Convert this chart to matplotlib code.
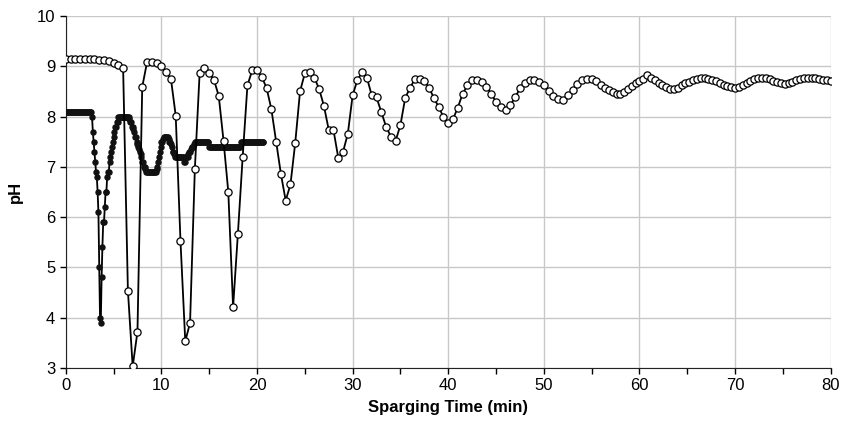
import numpy as np
import matplotlib
matplotlib.use("Agg")
import matplotlib.pyplot as plt
from matplotlib.ticker import MultipleLocator

plt.rcParams['font.family'] = ['Liberation Sans', 'DejaVu Sans']

# open circles: 0.5 min readings up to 55.5, then denser readings to 80
t_open_a = np.arange(0, 56, 0.5)
ph_open_a = [9.14, 9.14, 9.14, 9.14, 9.14, 9.14, 9.14, 9.13, 9.12, 9.10, 9.07, 9.03,
             8.97, 4.54, 3.03, 3.72, 8.59, 9.08, 9.09, 9.06, 9.00, 8.89, 8.75, 8.02,
             5.52, 3.53, 3.90, 6.95, 8.86, 8.97, 8.87, 8.73, 8.41, 7.52, 6.50, 4.21,
             5.66, 7.19, 8.62, 8.92, 8.92, 8.79, 8.57, 8.15, 7.50, 6.86, 6.33, 6.65,
             7.48, 8.50, 8.86, 8.88, 8.77, 8.55, 8.21, 7.74, 7.73, 7.18, 7.30, 7.66,
             8.42, 8.73, 8.88, 8.77, 8.42, 8.38, 8.09, 7.80, 7.60, 7.52, 7.83, 8.37,
             8.57, 8.74, 8.74, 8.71, 8.57, 8.37, 8.19, 7.99, 7.87, 7.95, 8.18, 8.45,
             8.62, 8.72, 8.73, 8.69, 8.59, 8.45, 8.29, 8.19, 8.13, 8.23, 8.38, 8.56,
             8.67, 8.72, 8.73, 8.69, 8.62, 8.50, 8.40, 8.34, 8.33, 8.42, 8.53, 8.65,
             8.73, 8.75, 8.75, 8.70]
t_open_b = np.round(np.arange(56.0, 80.01, 0.4), 2)
ph_open_b = [8.62, 8.57, 8.52, 8.48, 8.45, 8.44, 8.49, 8.54, 8.60, 8.66, 8.71, 8.75,
             8.82, 8.76, 8.72, 8.67, 8.62, 8.58, 8.55, 8.54, 8.57, 8.62, 8.66, 8.69,
             8.72, 8.75, 8.76, 8.76, 8.75, 8.73, 8.70, 8.67, 8.63, 8.60, 8.58, 8.57,
             8.59, 8.63, 8.67, 8.71, 8.74, 8.76, 8.77, 8.76, 8.74, 8.71, 8.68, 8.66,
             8.65, 8.66, 8.69, 8.72, 8.75, 8.76, 8.77, 8.77, 8.76, 8.75, 8.73, 8.72,
             8.70]
t_open = np.concatenate([t_open_a, t_open_b])
ph_open = ph_open_a + ph_open_b

# filled circles: readings every 5 s up to ~20.7 min
ph_fill = ([8.1] * 33 +
           [8.0, 7.7, 7.5, 7.3, 7.1, 6.9, 6.8, 6.5, 6.1, 5.0, 4.0, 3.9,
            4.8, 5.4, 5.9, 5.9, 6.2, 6.5, 6.5, 6.8, 6.9, 6.9, 7.1, 7.2,
            7.3, 7.4, 7.5, 7.6, 7.7, 7.8, 7.8, 7.9, 7.9, 8.0] +
           [8.0] * 13 +
           [7.95, 7.9, 7.9, 7.8, 7.8, 7.75, 7.7, 7.6, 7.6, 7.5, 7.45, 7.4,
            7.35, 7.3, 7.25, 7.2, 7.1, 7.1, 7.0, 7.0, 6.95, 6.9] +
           [6.9] * 12 +
           [6.95, 7.0, 7.1, 7.2, 7.3, 7.4, 7.5, 7.5, 7.55, 7.6] +
           [7.6] * 5 +
           [7.55, 7.5, 7.5, 7.45, 7.4, 7.3, 7.3, 7.25] +
           [7.2] * 12 +
           [7.1, 7.1, 7.2, 7.2, 7.2, 7.25, 7.3, 7.3, 7.35, 7.4, 7.4, 7.4, 7.45] +
           [7.5] * 18 +
           [7.4] * 40 +
           [7.5] * 29)
t_fill = np.arange(len(ph_fill)) / 12.0

fig = plt.figure(figsize=(8.56, 4.30), dpi=100)
ax = fig.add_axes([0.0768, 0.1442, 0.8937, 0.8186])

ax.plot(t_fill, ph_fill, color='black', lw=1.3, marker='o', ms=3.6,
        mfc='#111111', mec='#111111', zorder=3)
ax.plot(t_open, ph_open, color='black', lw=1.3, marker='o', ms=5.2,
        mfc='white', mec='black', mew=0.9, zorder=4)

ax.set_xlim(0, 80)
ax.set_ylim(3, 10)
ax.xaxis.set_major_locator(MultipleLocator(10))
ax.xaxis.set_minor_locator(MultipleLocator(5))
ax.yaxis.set_major_locator(MultipleLocator(1))
ax.grid(True, which='major', color='#c8c8c8', lw=1.0)
ax.set_axisbelow(True)
ax.spines['top'].set_visible(False)
ax.spines['right'].set_visible(False)
ax.spines['left'].set_color('#222222')
ax.spines['bottom'].set_color('#222222')
ax.tick_params(which='major', direction='out', length=4, width=1, labelsize=12)
ax.tick_params(which='minor', direction='out', length=4, width=1)
ax.set_xlabel('Sparging Time (min)', fontsize=12, fontweight='bold', labelpad=5)
ax.set_ylabel('pH', fontsize=12, fontweight='bold', labelpad=10)

fig.savefig('out.png', dpi=100)
